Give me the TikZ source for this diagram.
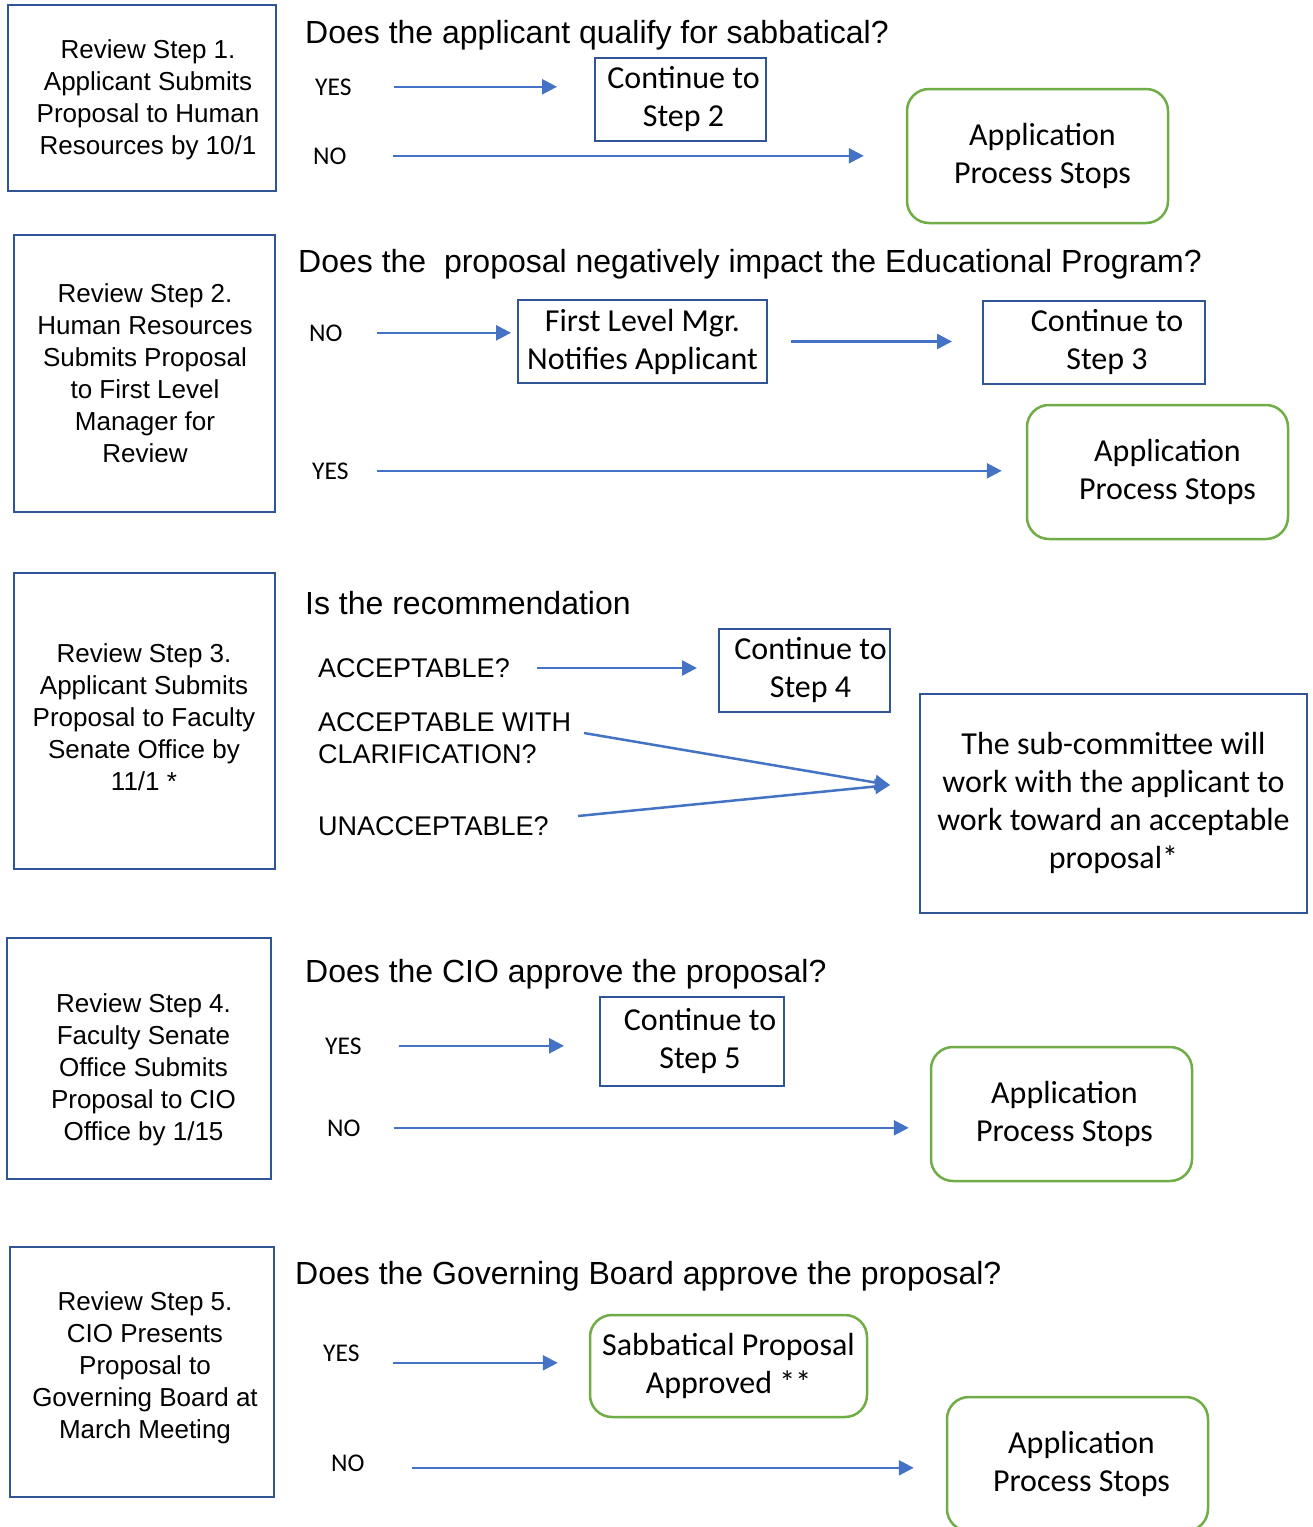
\documentclass[tikz,border=0pt]{standalone}
\usepackage{fontspec}
\setmainfont{Liberation Sans}
\newfontfamily\calfont{Carlito}
\usetikzlibrary{arrows.meta}
\definecolor{boxblue}{HTML}{2F5597}
\definecolor{arrblue}{HTML}{4472C4}
\definecolor{okgreen}{HTML}{70AD47}
\begin{document}
\begin{tikzpicture}[x=1pt,y=-1pt,
 rbox/.style={draw=boxblue,line width=2pt,inner sep=0pt},
 rtext/.style={align=center,inner sep=0pt,font=\fontsize{26}{32}\selectfont},
 quest/.style={anchor=base west,inner sep=0pt,font=\fontsize{32}{38}\selectfont},
 yn/.style={anchor=base west,inner sep=0pt,font=\calfont\fontsize{25.5}{30}\selectfont},
 opt/.style={anchor=west,inner sep=0pt,align=left,font=\fontsize{27}{32}\selectfont},
 cbox/.style={draw=boxblue,line width=2pt,inner sep=0pt,align=center,font=\calfont\fontsize{32}{38}\selectfont},
 gbox/.style={draw=okgreen,line width=2.5pt,rounded corners=22pt,inner sep=0pt,align=center,font=\calfont\fontsize{32}{38}\selectfont},
 arr/.style={draw=arrblue,line width=2.5pt,-{Triangle[length=15pt,width=15pt]}}
]
\useasboundingbox (0,0) rectangle (1313,1527);
\clip (0,0) rectangle (1313,1527);
\fill[white] (0,0) rectangle (1313,1527);

% ---------- Section 1 ----------
\node[rbox,minimum width=268pt,minimum height=186pt] (r1) at (142,98) {};
\node[rtext] (r1t) at (148,100) {Review Step 1.\\Applicant Submits\\Proposal to Human\\Resources by 10/1};
\node[quest] (q1) at (305,43) {Does the applicant qualify for sabbatical?};
\node[yn] (yes1) at (315,95) {YES};
\node[yn] (no1) at (313,164) {NO};
\node[cbox,minimum width=171pt,minimum height=83pt] (c1) at (680.5,99.5) {\hspace*{6pt}Continue to\\\hspace*{6pt}Step 2};
\node[gbox,minimum width=261pt,minimum height=134pt] (s1) at (1037.5,156) {\hspace*{10pt}Application\\\hspace*{10pt}Process Stops};
\draw[arr,shorten <=42pt,shorten >=37pt] (yes1.east) -- (yes1.east -| c1.west);
\draw[arr,shorten <=46pt,shorten >=42pt] (no1.east) -- (no1.east -| s1.west);

% ---------- Section 2 ----------
\node[rbox,minimum width=261pt,minimum height=277pt] (r2) at (144.5,373.5) {};
\node[rtext] (r2t) at (145,373) {Review Step 2.\\Human Resources\\Submits Proposal\\to First Level\\Manager for\\Review};
\node[quest] (q2) at (298,272.5) {Does the~ proposal negatively impact the Educational Program?};
\node[yn] (no2) at (309,341) {NO};
\node[cbox,minimum width=249pt,minimum height=83pt] (fl) at (642.5,341.5) {First Level Mgr.\\Notifies Applicant};
\node[cbox,minimum width=222pt,minimum height=83pt] (c2) at (1094,342.5) {\hspace*{26pt}Continue to\\\hspace*{26pt}Step 3};
\node[yn] (yes2) at (312,479) {YES};
\node[gbox,minimum width=261pt,minimum height=134pt] (s2) at (1157.5,472) {\hspace*{20pt}Application\\\hspace*{20pt}Process Stops};
\draw[arr,shorten <=34pt,shorten >=6pt] (no2.east) -- (no2.east -| fl.west);
\draw[arr,shorten <=23pt,shorten >=30pt] (fl.east) -- (fl.east -| c2.west);
\draw[arr,shorten <=28pt,shorten >=24pt] (yes2.east) -- (yes2.east -| s2.west);

% ---------- Section 3 ----------
\node[rbox,minimum width=261pt,minimum height=296pt] (r3) at (144.5,721) {};
\node[rtext] (r3t) at (144,717) {Review Step 3.\\Applicant Submits\\Proposal to Faculty\\Senate Office by\\11/1 *};
\node[quest] (q3) at (305,614.5) {Is the recommendation};
\node[opt] (acc) at (318,668) {ACCEPTABLE?};
\node[opt] (acw) at (318,738) {ACCEPTABLE WITH\\CLARIFICATION?};
\node[opt] (una) at (318,826) {UNACCEPTABLE?};
\node[cbox,minimum width=171pt,minimum height=83pt] (c3) at (804.5,670.5) {\hspace*{12pt}Continue to\\\hspace*{12pt}Step 4};
\node[cbox,minimum width=387pt,minimum height=219pt] (sub) at (1113.5,803) {The sub-committee will\\work with the applicant to\\work toward an acceptable\\proposal*};
\coordinate (conv) at (890,785);
\coordinate (acws) at (584,733);
\coordinate (unas) at (578,816);
\draw[arr,shorten <=27pt,shorten >=21pt] (acc.east) -- (acc.east -| c3.west);
\draw[arr] (acws) -- (conv);
\draw[arr] (unas) -- (conv);

% ---------- Section 4 ----------
\node[rbox,minimum width=264pt,minimum height=241pt] (r4) at (139,1058.5) {};
\node[rtext] (r4t) at (143.5,1070) {Review Step 4.\\Faculty Senate\\Office Submits\\Proposal to CIO\\Office by 1/15};
\node[quest] (q4) at (305,982.5) {Does the CIO approve the proposal?};
\node[yn] (yes4) at (325,1054) {YES};
\node[yn] (no4) at (327,1136) {NO};
\node[cbox,minimum width=184pt,minimum height=89pt] (c4) at (692,1041.5) {\hspace*{16pt}Continue to\\\hspace*{16pt}Step 5};
\node[gbox,minimum width=261pt,minimum height=134pt] (s4) at (1061.5,1114) {\hspace*{6pt}Application\\\hspace*{6pt}Process Stops};
\draw[arr,shorten <=37pt,shorten >=35pt] (yes4.east) -- (yes4.east -| c4.west);
\draw[arr,shorten <=33pt,shorten >=21pt] (no4.east) -- (no4.east -| s4.west);

% ---------- Section 5 ----------
\node[rbox,minimum width=264pt,minimum height=250pt] (r5) at (142,1372) {};
\node[rtext] (r5t) at (145,1368) {Review Step 5.\\CIO Presents\\Proposal to\\Governing Board at\\March Meeting};
\node[quest] (q5) at (295,1284.5) {Does the Governing Board approve the proposal?};
\node[yn] (yes5) at (323,1361) {YES};
\node[yn] (no5) at (331,1471) {NO};
\node[gbox,minimum width=277pt,minimum height=102pt] (sp) at (728.5,1366) {Sabbatical Proposal\\Approved **};
\node[gbox,minimum width=261pt,minimum height=134pt] (s5) at (1077.5,1464) {\hspace*{8pt}Application\\\hspace*{8pt}Process Stops};
\path (yes5.east) ++(0,10) coordinate (y5a);
\path (no5.east) ++(0,5) coordinate (n5a);
\draw[arr,shorten <=33pt,shorten >=31pt] (y5a) -- (y5a -| sp.west);
\draw[arr,shorten <=47pt,shorten >=32pt] (n5a) -- (n5a -| s5.west);
\end{tikzpicture}
\end{document}
